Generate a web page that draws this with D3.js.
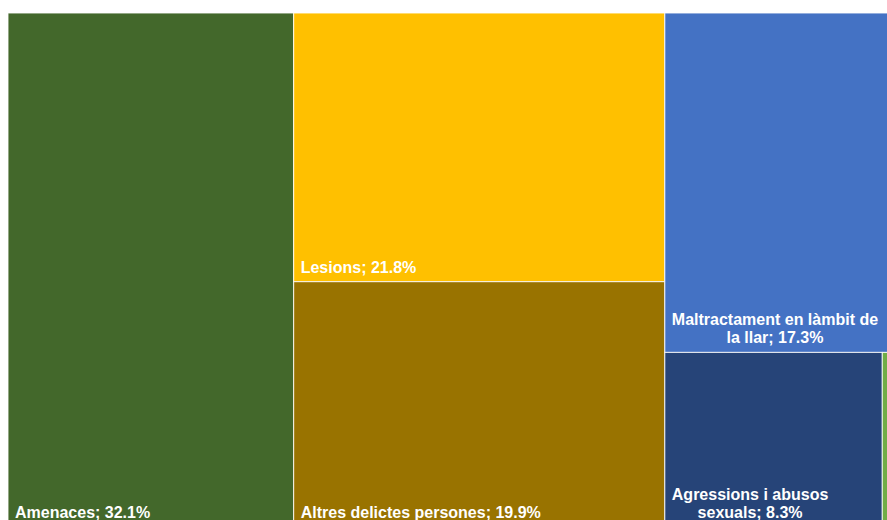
<!DOCTYPE html>
<html>
<head>
<meta charset="utf-8">
<script src="https://cdn.jsdelivr.net/npm/d3@7"></script>
<style>
  body { margin: 0; background: #fff; overflow: hidden; }
  svg { display: block; }
  .lbl { font-family: "Liberation Sans", Arial, sans-serif; font-size: 16px; font-weight: bold; fill: #fff; }
</style>
</head>
<body>
<svg id="chart" width="887" height="520"></svg>
<script>
	/* percentages, the last one is the small remainder at the right edge */
	var categories = ['Amenaces', 'Lesions', 'Altres delictes persones', 'Maltractament en làmbit de la llar', 'Agressions i abusos sexuals', 'Altres'];
	var values = [32.1, 21.8, 19.9, 17.3, 8.3, 0.6];
	var colors = ['#43682b', '#ffc000', '#997300', '#4472c4', '#264478', '#70ad47'];

	var svg = d3.select('#chart'),
		g = svg.append('g').attr('transform', 'translate(8,13)');

	/* the plot is larger than the window, so it runs off the right and bottom edges */
	var width = 890, height = 514;

	var rows = categories.map(function(c, i) { return {name: c, value: values[i], color: colors[i]}; });

	var root = d3.hierarchy({children: rows})
		.sum(function(d) { return d.value || 0; })
		.sort(function(a, b) { return b.value - a.value; });

	d3.treemap()
		.tile(d3.treemapSquarify.ratio(1))
		.size([width, height])
		.round(false)(root);

	var cell = g.selectAll('g.cell')
		.data(root.leaves())
		.enter().append('g').attr('class', 'cell');

	cell.append('rect')
		.attr('x', function(d) { return d.x0; })
		.attr('y', function(d) { return d.y0; })
		.attr('width', function(d) { return d.x1 - d.x0; })
		.attr('height', function(d) { return d.y1 - d.y0; })
		.attr('fill', function(d) { return d.data.color; })
		.attr('stroke', '#fff')
		.attr('stroke-opacity', 0.85)
		.attr('stroke-width', 1);

	/* wrap label to the cell width, lines centred in a block that sits at the bottom left */
	var lineH = 18, pad = 7;
	cell.each(function(d) {
		var sel = d3.select(this);
		var maxW = d.x1 - d.x0 - pad * 2;
		// no room for a label in the thin sliver at the edge
		if (maxW < 40) return;
		var text = d.data.name + '; ' + d.data.value.toFixed(1) + '%';
		var words = text.split(' ');
		var probe = sel.append('text').attr('class', 'lbl');
		var lines = [], cur = '';
		words.forEach(function(w) {
			var test = cur ? cur + ' ' + w : w;
			probe.text(test);
			if (probe.node().getComputedTextLength() > maxW && cur) {
				lines.push(cur);
				cur = w;
			} else {
				cur = test;
			}
		});
		lines.push(cur);
		var widths = lines.map(function(l) { probe.text(l); return probe.node().getComputedTextLength(); });
		probe.remove();
		var blockW = d3.max(widths);
		var t = sel.append('text').attr('class', 'lbl');
		lines.forEach(function(l, i) {
			t.append('tspan')
				.attr('x', d.x0 + pad + (blockW - widths[i]) / 2)
				.attr('y', d.y1 - 9 - (lines.length - 1 - i) * lineH)
				.text(l);
		});
	});
</script>
</body>
</html>
